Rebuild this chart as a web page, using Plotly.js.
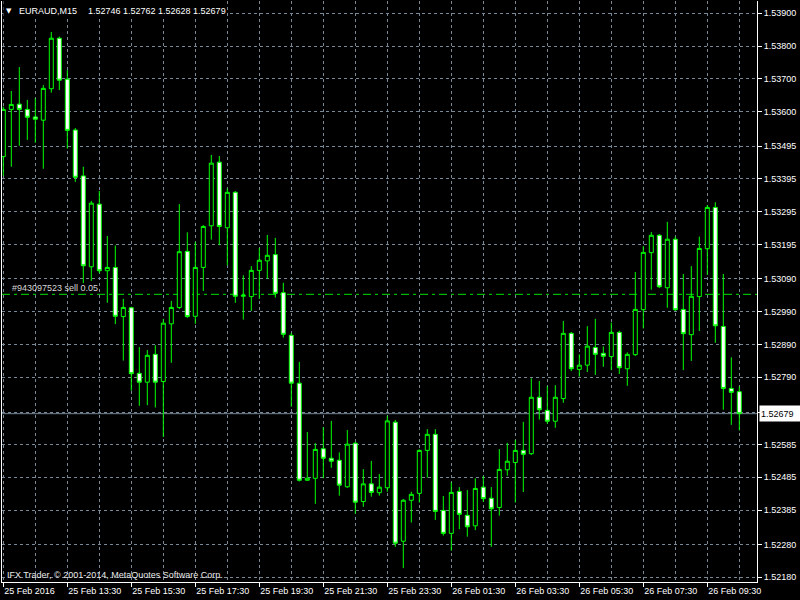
<!DOCTYPE html>
<html>
<head>
<meta charset="utf-8">
<script src="https://cdn.plot.ly/plotly-3.0.1.min.js"></script>
<style>
html,body{margin:0;padding:0;background:#000;}
#chart{width:800px;height:600px;}
</style>
</head>
<body>
<div id="chart"></div>
<script>
// ---- data (EURAUD M15) ----
const times = [
'2016-02-25 11:30','2016-02-25 11:45',
'2016-02-25 12:00','2016-02-25 12:15','2016-02-25 12:30','2016-02-25 12:45',
'2016-02-25 13:00','2016-02-25 13:15','2016-02-25 13:30','2016-02-25 13:45',
'2016-02-25 14:00','2016-02-25 14:15','2016-02-25 14:30','2016-02-25 14:45',
'2016-02-25 15:00','2016-02-25 15:15','2016-02-25 15:30','2016-02-25 15:45',
'2016-02-25 16:00','2016-02-25 16:15','2016-02-25 16:30','2016-02-25 16:45',
'2016-02-25 17:00','2016-02-25 17:15','2016-02-25 17:30','2016-02-25 17:45',
'2016-02-25 18:00','2016-02-25 18:15','2016-02-25 18:30','2016-02-25 18:45',
'2016-02-25 19:00','2016-02-25 19:15','2016-02-25 19:30','2016-02-25 19:45',
'2016-02-25 20:00','2016-02-25 20:15','2016-02-25 20:30','2016-02-25 20:45',
'2016-02-25 21:00','2016-02-25 21:15','2016-02-25 21:30','2016-02-25 21:45',
'2016-02-25 22:00','2016-02-25 22:15','2016-02-25 22:30','2016-02-25 22:45',
'2016-02-25 23:00','2016-02-25 23:15','2016-02-25 23:30','2016-02-25 23:45',
'2016-02-26 00:00','2016-02-26 00:15','2016-02-26 00:30','2016-02-26 00:45',
'2016-02-26 01:00','2016-02-26 01:15','2016-02-26 01:30','2016-02-26 01:45',
'2016-02-26 02:00','2016-02-26 02:15','2016-02-26 02:30','2016-02-26 02:45',
'2016-02-26 03:00','2016-02-26 03:15','2016-02-26 03:30','2016-02-26 03:45',
'2016-02-26 04:00','2016-02-26 04:15','2016-02-26 04:30','2016-02-26 04:45',
'2016-02-26 05:00','2016-02-26 05:15','2016-02-26 05:30','2016-02-26 05:45',
'2016-02-26 06:00','2016-02-26 06:15','2016-02-26 06:30','2016-02-26 06:45',
'2016-02-26 07:00','2016-02-26 07:15','2016-02-26 07:30','2016-02-26 07:45',
'2016-02-26 08:00','2016-02-26 08:15','2016-02-26 08:30','2016-02-26 08:45',
'2016-02-26 09:00','2016-02-26 09:15','2016-02-26 09:30','2016-02-26 09:45',
'2016-02-26 10:00','2016-02-26 10:15','2016-02-26 10:30'
];

const opens = [
1.53463,1.53607,1.53623,1.53607,1.53584,1.53574,1.53670,1.53824,1.53699,1.53544,
1.53404,1.53127,1.53318,1.53115,1.53125,1.52975,1.53002,1.52802,1.52775,1.52860,
1.52777,1.52953,1.53003,1.53174,1.52976,1.53125,1.53252,1.53446,1.53246,1.53354,
1.53037,1.53036,1.53116,1.53145,1.53164,1.53048,1.52918,1.52772,1.52476,1.52482,
1.52572,1.52543,1.52537,1.52456,1.52589,1.52411,1.52465,1.52438,1.52453,1.52653,
1.52290,1.52415,1.52436,1.52567,1.52616,1.52384,1.52314,1.52442,1.52369,1.52337,
1.52455,1.52421,1.52393,1.52508,1.52530,1.52567,1.52557,1.52729,1.52689,1.52656,
1.52725,1.52924,1.52814,1.52827,1.52881,1.52863,1.52853,1.52927,1.52816,1.52859,
1.52996,1.53170,1.53223,1.53063,1.53211,1.52997,1.52920,1.53036,1.53182,1.53308,
1.52945,1.52756,1.52746
];
const highs = [
1.53615,1.53663,1.53736,1.53636,1.53641,1.53681,1.53843,1.53829,1.53727,1.53550,
1.53432,1.53328,1.53358,1.53221,1.53192,1.53029,1.53005,1.52882,1.52873,1.52888,
1.52968,1.53023,1.53318,1.53232,1.53203,1.53254,1.53468,1.53465,1.53366,1.53358,
1.53101,1.53129,1.53184,1.53224,1.53215,1.53078,1.52925,1.52837,1.52623,1.52589,
1.52638,1.52657,1.52561,1.52629,1.52593,1.52510,1.52535,1.52495,1.52673,1.52660,
1.52419,1.52441,1.52570,1.52632,1.52632,1.52428,1.52470,1.52455,1.52446,1.52482,
1.52489,1.52455,1.52571,1.52590,1.52599,1.52654,1.52787,1.52779,1.52763,1.52766,
1.52962,1.52928,1.52860,1.52946,1.52968,1.52884,1.52957,1.52932,1.52866,1.53111,
1.53190,1.53233,1.53227,1.53264,1.53219,1.53105,1.53129,1.53219,1.53315,1.53324,
1.53105,1.52851,1.52762
];
const lows = [
1.53405,1.53432,1.53496,1.53514,1.53505,1.53426,1.53658,1.53666,1.53487,1.53386,
1.53077,1.53084,1.53108,1.53017,1.52952,1.52841,1.52749,1.52703,1.52705,1.52698,
1.52608,1.52834,1.52998,1.52971,1.52953,1.53053,1.53210,1.53193,1.53132,1.53017,
1.52966,1.52992,1.53029,1.53090,1.53033,1.52911,1.52700,1.52472,1.52474,1.52404,
1.52482,1.52514,1.52429,1.52453,1.52374,1.52395,1.52426,1.52429,1.52441,1.52273,
1.52208,1.52347,1.52408,1.52484,1.52355,1.52307,1.52261,1.52327,1.52304,1.52324,
1.52410,1.52273,1.52368,1.52490,1.52408,1.52440,1.52553,1.52661,1.52648,1.52636,
1.52712,1.52809,1.52792,1.52806,1.52797,1.52822,1.52812,1.52800,1.52764,1.52855,
1.52939,1.53057,1.53062,1.53002,1.52992,1.52812,1.52840,1.52931,1.53102,1.52895,
1.52691,1.52645,1.52628
];
const closes = [
1.53607,1.53622,1.53607,1.53583,1.53577,1.53671,1.53824,1.53696,1.53543,1.53400,
1.53130,1.53321,1.53115,1.53125,1.52976,1.53003,1.52801,1.52775,1.52857,1.52775,
1.52955,1.53003,1.53173,1.52975,1.53125,1.53250,1.53443,1.53250,1.53354,1.53037,
1.53040,1.53116,1.53147,1.53162,1.53046,1.52921,1.52772,1.52476,1.52482,1.52570,
1.52543,1.52534,1.52461,1.52586,1.52409,1.52465,1.52439,1.52455,1.52657,1.52284,
1.52415,1.52433,1.52567,1.52616,1.52381,1.52314,1.52439,1.52372,1.52334,1.52451,
1.52420,1.52389,1.52509,1.52534,1.52567,1.52555,1.52729,1.52691,1.52656,1.52729,
1.52924,1.52816,1.52827,1.52885,1.52860,1.52854,1.52927,1.52819,1.52860,1.52997,
1.53171,1.53223,1.53066,1.53211,1.52996,1.52923,1.53037,1.53183,1.53308,1.52947,
1.52756,1.52744,1.52679
];

const timeTicks = ['2016-02-25 11:30','2016-02-25 13:30','2016-02-25 15:30','2016-02-25 17:30',
  '2016-02-25 19:30','2016-02-25 21:30','2016-02-25 23:30','2016-02-26 01:30',
  '2016-02-26 03:30','2016-02-26 05:30','2016-02-26 07:30','2016-02-26 09:30'];
const timeLabels = ['25 Feb 2016','25 Feb 13:30','25 Feb 15:30','25 Feb 17:30','25 Feb 19:30',
  '25 Feb 21:30','25 Feb 23:30','26 Feb 01:30','26 Feb 03:30','26 Feb 05:30','26 Feb 07:30','26 Feb 09:30'];

const priceTicks = [1.53900,1.53800,1.53700,1.53600,1.53495,1.53395,1.53295,1.53195,1.53090,
  1.52990,1.52890,1.52790,1.52684,1.52585,1.52485,1.52385,1.52280,1.52180];
const priceLabels = ['1.53900','1.53800','1.53700','1.53600','1.53495','1.53395','1.53295','1.53195','1.53090',
  '1.52990','1.52890','1.52790','','1.52585','1.52485','1.52385','1.52280','1.52180'];

const symbol = 'EURAUD,M15';
const lastBar = ['1.52746', '1.52762', '1.52628', '1.52679'];  // open, high, low, close
const bidPrice = 1.52679;
const orderPrice = 1.53043;
const orderLabel = '#943097523 sell 0.05';
const copyright = 'IFX Trader, \u00a9 2001-2014, MetaQuotes Software Corp.';

// ---- chart ----
const GRID = '#778899';
const LIME = '#00ff00';
const FONT = 'Liberation Sans, Arial, sans-serif';

const trace = {
  type: 'candlestick',
  x: times, open: opens, high: highs, low: lows, close: closes,
  increasing: {line: {color: LIME, width: 1}, fillcolor: '#000000'},
  decreasing: {line: {color: LIME, width: 1}, fillcolor: '#ffffff'},
  whiskerwidth: 0,
  hoverinfo: 'skip'
};

const layout = {
  width: 800, height: 600,
  paper_bgcolor: '#000000', plot_bgcolor: '#000000',
  margin: {l: 2, r: 43, t: 1, b: 18, pad: 0},
  font: {family: FONT, size: 9, color: '#ffffff'},
  showlegend: false,
  boxgap: 0.5, boxgroupgap: 0,
  title: {
    text: symbol,
    x: 0.02375, xanchor: 'left', xref: 'container',
    y: 0.9813, yanchor: 'middle', yref: 'container',
    font: {size: 9, color: '#ffffff', family: FONT}
  },
  xaxis: {
    type: 'date',
    range: ['2016-02-25 11:27:33.75', '2016-02-26 11:03:11.25'],
    rangeslider: {visible: false},
    tickmode: 'array', tickvals: timeTicks, ticktext: timeLabels,
    ticks: 'outside', ticklen: 4, tickcolor: '#ffffff', tickwidth: 1,
    ticklabelposition: 'outside right',
    tickfont: {size: 9, color: '#ffffff'},
    showgrid: true, gridcolor: GRID, griddash: '3px,3px', gridwidth: 1,
    minor: {tick0: '2016-02-25 11:30', dtick: 3600000, showgrid: true, gridcolor: GRID, griddash: '3px,3px', gridwidth: 1, ticks: ''},
    showline: true, linecolor: '#ffffff', linewidth: 1,
    zeroline: false, fixedrange: true
  },
  yaxis: {
    side: 'right',
    range: [1.5216568, 1.5393751],
    tickmode: 'array', tickvals: priceTicks, ticktext: priceLabels,
    ticks: 'outside', ticklen: 4, tickcolor: '#ffffff', tickwidth: 1,
    tickfont: {size: 9, color: '#ffffff'},
    showgrid: true, gridcolor: GRID, griddash: '3px,3px', gridwidth: 1,
    showline: true, mirror: true, linecolor: '#ffffff', linewidth: 1,
    zeroline: false, fixedrange: true
  },
  shapes: [
    // black header box behind the symbol / price text
    {type: 'rect', xref: 'paper', yref: 'paper', x0: 0.002, x1: 0.298, y0: 0.9725, y1: 1,
     fillcolor: '#000000', line: {width: 0}, layer: 'above'},
    {type: 'line', xref: 'paper', x0: 0, x1: 1, yref: 'y', y0: orderPrice, y1: orderPrice,
     line: {color: '#00e000', width: 1, dash: '8px,4px,3px,4px'}, layer: 'below'},
    {type: 'line', xref: 'paper', x0: 0, x1: 1, yref: 'y', y0: bidPrice, y1: bidPrice,
     line: {color: GRID, width: 1}, layer: 'below'}
  ],
  annotations: [
    {text: '\u25BC', xref: 'paper', yref: 'paper', x: 0.00927, y: 0.9822, xanchor: 'center', yanchor: 'middle',
     showarrow: false, font: {size: 7, color: '#ffffff', family: 'DejaVu Sans'}},
    {text: lastBar.join(' '), xref: 'paper', yref: 'paper', x: 0.1113, y: 0.9822,
     xanchor: 'left', yanchor: 'middle', showarrow: false, font: {size: 9, color: '#ffffff'}},
    {text: orderLabel, xref: 'paper', yref: 'y', x: 0.0106, y: orderPrice, yshift: 6.5,
     xanchor: 'left', yanchor: 'middle', showarrow: false, font: {size: 9, color: '#d8d8d8'}},
    {text: copyright, xref: 'paper', yref: 'paper', x: 0.004, y: 0.0129, xanchor: 'left', yanchor: 'middle',
     showarrow: false, font: {size: 9, color: '#e8e8e8'}},
    {text: bidPrice.toFixed(5), xref: 'paper', yref: 'y', x: 1.00265, y: bidPrice,
     xanchor: 'left', yanchor: 'middle', showarrow: false, align: 'left',
     width: 39, height: 13, borderpad: 1, bgcolor: '#ffffff', font: {size: 9, color: '#000000'}}
  ]
};

Plotly.newPlot('chart', [trace], layout, {displayModeBar: false, staticPlot: true});
</script>
</body>
</html>
